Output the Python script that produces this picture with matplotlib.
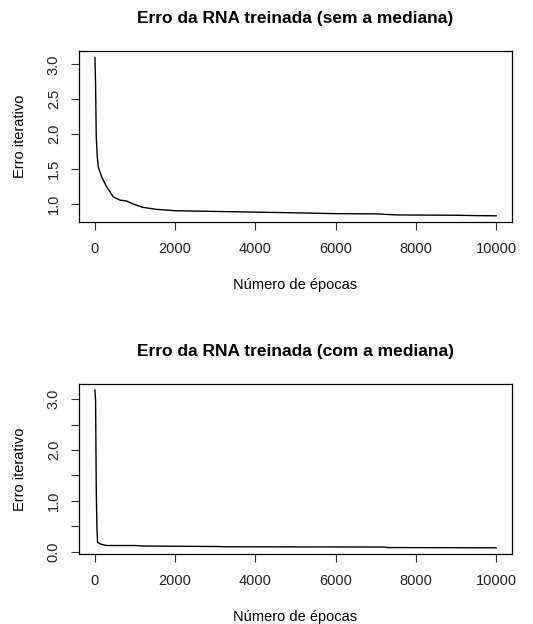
import numpy as np
import matplotlib
matplotlib.use("Agg")
import matplotlib.pyplot as plt

plt.rcParams['font.family'] = ['Liberation Sans', 'DejaVu Sans']

# dados (epoca, erro)
epocas_sem = [0, 16, 33, 58, 83, 166, 290, 455, 620, 787, 952, 1200, 1530, 2000,
              3000, 4000, 5000, 6000, 7000, 7500, 8000, 9000, 9500, 10000]
erro_sem = [3.10, 2.71, 1.96, 1.68, 1.53, 1.39, 1.245, 1.10, 1.053, 1.04, 0.996, 0.948,
            0.92, 0.90, 0.89, 0.88, 0.87, 0.858, 0.855, 0.84, 0.838, 0.835, 0.83, 0.827]

epocas_com = [0, 16, 33, 50, 66, 170, 300, 1000, 1200, 3100, 3200, 7200, 7300, 10000]
erro_com = [3.18, 2.98, 1.24, 0.45, 0.18, 0.14, 0.12, 0.12, 0.11, 0.10, 0.095,
            0.09, 0.08, 0.075]

titulos = ['Erro da RNA treinada (sem a mediana)', 'Erro da RNA treinada (com a mediana)']
xticks = [0, 2000, 4000, 6000, 8000, 10000]
yticks_sem = [1.0, 1.5, 2.0, 2.5, 3.0]
yticks_com = [0.0, 0.5, 1.0, 1.5, 2.0, 2.5, 3.0]
ylabels_com = ['0.0', '', '1.0', '', '2.0', '', '3.0']

fig = plt.figure(figsize=(5.33, 6.24), dpi=100)
ax1 = fig.add_axes([0.148, 0.644, 0.813, 0.274])
ax2 = fig.add_axes([0.148, 0.112, 0.813, 0.273])


def desenha(ax, x, y, titulo, yt, ylab):
    ax.plot(x, y, color='black', lw=1.0)
    ax.margins(x=0.04, y=0.04)
    ax.set_title(titulo, fontsize=12.5, fontweight='bold', pad=20)
    ax.set_xlabel('Número de épocas', fontsize=10.5, labelpad=16)
    ax.set_ylabel('Erro iterativo', fontsize=10.5, labelpad=14)
    ax.set_xticks(xticks)
    ax.set_xticklabels([str(t) for t in xticks])
    ax.set_yticks(yt)
    ax.set_yticklabels(ylab, rotation=90, va='center')
    ax.tick_params(axis='both', labelsize=10.5, length=6, width=0.8, color='#333333',
                   labelcolor='#222222')
    ax.tick_params(axis='x', pad=8)
    ax.tick_params(axis='y', pad=7)
    for s in ax.spines.values():
        s.set_linewidth(0.9)


desenha(ax1, epocas_sem, erro_sem, titulos[0], yticks_sem, ['%.1f' % v for v in yticks_sem])
desenha(ax2, epocas_com, erro_com, titulos[1], yticks_com, ylabels_com)

fig.savefig('out.png', dpi=100)
